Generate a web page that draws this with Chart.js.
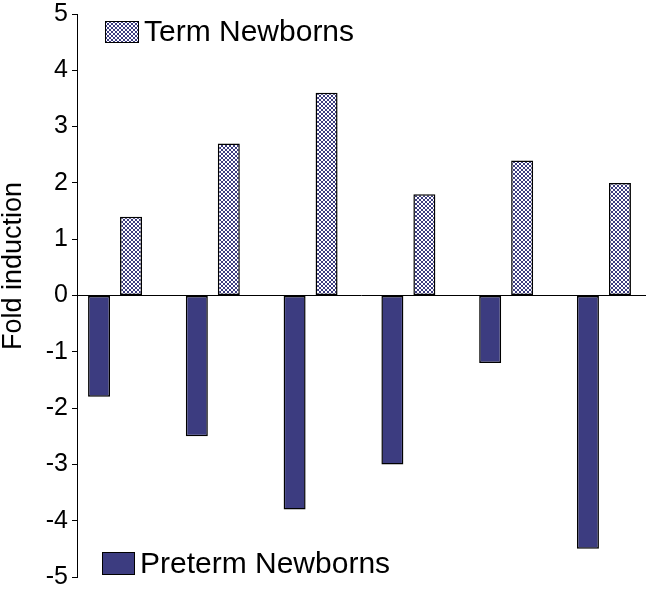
<!DOCTYPE html>
<html>
<head>
<meta charset="utf-8">
<script src="https://cdn.jsdelivr.net/npm/chart.js@4"></script>
<style>
  html, body { margin: 0; padding: 0; background: #fff; }
  #wrap { width: 646px; height: 591px; }
</style>
</head>
<body>
<div id="wrap"><canvas id="chart"></canvas></div>
<script>
// groups along x (no labels shown on the original)
const groups = [0, 1, 2, 3, 4, 5];
const pretermValues = [-1.8, -2.5, -3.8, -3.0, -1.2, -4.5];
const termValues = [1.4, 2.7, 3.6, 1.8, 2.4, 2.0];
const yTicks = [-5, -4, -3, -2, -1, 0, 1, 2, 3, 4, 5];
const seriesNames = ['Preterm Newborns', 'Term Newborns'];
const yTitle = 'Fold induction';

const FONT = '"Liberation Sans", Arial, sans-serif';
const navy = '#3c3c80';

// cross hatch fill for the term bars
function hatch() {
    const c = document.createElement('canvas');
    c.width = 4; c.height = 4;
    const g = c.getContext('2d');
    g.fillStyle = '#fff';
    g.fillRect(0, 0, 4, 4);
    g.strokeStyle = '#3c3c80';
    g.lineWidth = 1;
    g.beginPath();
    g.moveTo(0, 0); g.lineTo(4, 4);
    g.moveTo(4, 0); g.lineTo(0, 4);
    g.stroke();
    return g.createPattern(c, 'repeat');
}
const hatchFill = hatch();

// legend boxes sit inside the plot, one top, one bottom
const legendSpots = [
    { x: 102, y: 552, w: 33, h: 23 },
    { x: 105, y: 21, w: 34, h: 22 }
];

const extras = {
    id: 'extras',
    afterDraw(chart) {
        const ctx = chart.ctx;
        ctx.save();
        chart.data.datasets.forEach((ds, i) => {
            const s = legendSpots[i];
            ctx.fillStyle = ds.backgroundColor;
            ctx.fillRect(s.x, s.y, s.w, s.h);
            ctx.strokeStyle = '#000';
            ctx.lineWidth = 1;
            ctx.strokeRect(s.x + 0.5, s.y + 0.5, s.w - 1, s.h - 1);
            ctx.fillStyle = '#000';
            ctx.font = '30px ' + FONT;
            ctx.textBaseline = 'middle';
            ctx.textAlign = 'left';
            ctx.fillText(ds.label, s.x + s.w + 5, s.y + s.h / 2 + 1);
        });
        ctx.translate(14, 266);
        ctx.rotate(-Math.PI / 2);
        ctx.font = '27px ' + FONT;
        ctx.textAlign = 'center';
        ctx.textBaseline = 'middle';
        ctx.fillStyle = '#000';
        ctx.fillText(yTitle, 0, 0);
        ctx.restore();
    }
};

new Chart(document.getElementById('chart'), {
    type: 'bar',
    data: {
        datasets: [
            {
                label: seriesNames[0],
                data: groups.map((g, i) => ({ x: g, y: pretermValues[i] })),
                backgroundColor: navy,
                borderColor: '#000',
                borderWidth: 1.5,
                borderSkipped: false
            },
            {
                label: seriesNames[1],
                data: groups.map((g, i) => ({ x: g, y: termValues[i] })),
                backgroundColor: hatchFill,
                borderColor: '#000',
                borderWidth: 1.5,
                borderSkipped: false
            }
        ]
    },
    plugins: [extras],
    options: {
        responsive: true,
        maintainAspectRatio: false,
        animation: false,
        categoryPercentage: 0.654,
        barPercentage: 0.6875,
        layout: { padding: { top: 14, right: 1, bottom: 13, left: 0 } },
        plugins: {
            legend: { display: false },
            tooltip: { enabled: false }
        },
        scales: {
            x: {
                type: 'linear',
                position: { y: 0 },
                offset: false,
                min: -0.389,
                max: 5.42,
                afterBuildTicks: (s) => { s.ticks = groups.map(v => ({ value: v })); },
                ticks: { display: false },
                grid: { display: false, offset: false },
                border: { display: true, color: '#000', width: 1 }
            },
            y: {
                min: -5,
                max: 5,
                afterBuildTicks: (s) => { s.ticks = yTicks.map(v => ({ value: v })); },
                afterFit: (s) => { s.width = 77; },
                ticks: {
                    color: '#000',
                    padding: 4,
                    font: { family: FONT, size: 25, lineHeight: 0.8 }
                },
                grid: {
                    drawOnChartArea: false,
                    drawTicks: true,
                    tickLength: 5,
                    color: '#000'
                },
                border: { display: true, color: '#000', width: 1 }
            }
        }
    }
});
</script>
</body>
</html>
